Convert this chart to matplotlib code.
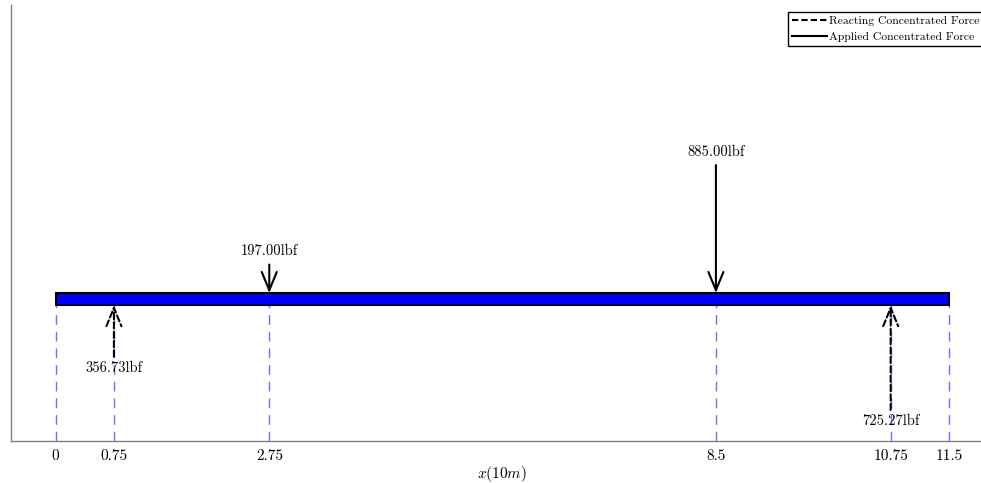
import matplotlib
matplotlib.use("Agg")
import matplotlib.pyplot as plt
from matplotlib.patches import Rectangle, FancyArrowPatch
from matplotlib.lines import Line2D

plt.rcParams['font.family'] = ['cmr10', 'DejaVu Serif']
plt.rcParams['mathtext.fontset'] = 'cm'
plt.rcParams['axes.formatter.use_mathtext'] = True

beam_length = 11.5
applied_x = [2.75, 8.5]
applied_f = [197.00, 885.00]
react_x = [0.75, 10.75]
react_f = [356.73, 725.27]
tick_pos = [0, 0.75, 2.75, 8.5, 10.75, 11.5]
tick_labels = ['0', '0.75', '2.75', '8.5', '10.75', '11.5']

beam_h = 83
W, H = 981, 483
fig = plt.figure(figsize=(W / 100, H / 100), dpi=100)
ax = fig.add_axes([11 / W, 42 / H, 982.6 / W, 436 / H])
ax.set_xlim(-0.575, beam_length + 0.575)
ax.set_ylim(-1023, 1992)

for s in ['top', 'right']:
    ax.spines[s].set_visible(False)
for s in ['left', 'bottom']:
    ax.spines[s].set_color('#808080')
    ax.spines[s].set_linewidth(1.0)
ax.set_yticks([])
ax.set_xticks(tick_pos)
ax.set_xticklabels(tick_labels, fontsize=11)
ax.tick_params(axis='x', length=0, pad=6)
ax.set_xlabel(r'$x(10m)$', fontsize=11, labelpad=1)

# vertical guide lines
for x in tick_pos:
    ax.plot([x, x], [-1023, -beam_h], color='#7070ff', lw=1.0,
            linestyle=(0, (7, 5)), zorder=1)

ax.add_patch(Rectangle((0, -beam_h), beam_length, beam_h, facecolor='blue',
                       edgecolor='black', lw=1.5, zorder=3))

for x, f in zip(applied_x, applied_f):
    ax.add_patch(FancyArrowPatch((x, f), (x, 0), arrowstyle='->,head_length=1.1,head_width=0.45',
                                 mutation_scale=12, color='black', lw=1.5, zorder=4,
                                 shrinkA=0, shrinkB=0))
    ax.text(x, f + 90, f'{f:.2f}lbf', ha='center', va='center', fontsize=10.5, zorder=5)

for x, f in zip(react_x, react_f):
    ax.add_patch(FancyArrowPatch((x, -beam_h - f), (x, -beam_h),
                                 arrowstyle='->,head_length=1.1,head_width=0.45',
                                 mutation_scale=12, color='black', lw=1.5, zorder=4,
                                 linestyle=(0, (3, 1.5)), shrinkA=0, shrinkB=0))
    ax.text(x, -beam_h - f - 80, f'{f:.2f}lbf', ha='center', va='center', fontsize=10.5, zorder=5)

handles = [Line2D([], [], color='black', lw=1.5, linestyle=(0, (3, 1.5))),
           Line2D([], [], color='black', lw=1.5)]
fig.legend(handles, ['Reacting Concentrated Force', 'Applied Concentrated Force'],
           loc='upper left', bbox_to_anchor=(788 / W, 1 - 12 / H), fontsize=8.4,
           frameon=True, fancybox=False, edgecolor='black', framealpha=1,
           handlelength=3.0, handletextpad=0.2, borderpad=0.35, labelspacing=0.5,
           borderaxespad=0)

fig.savefig('out.png', dpi=100)
